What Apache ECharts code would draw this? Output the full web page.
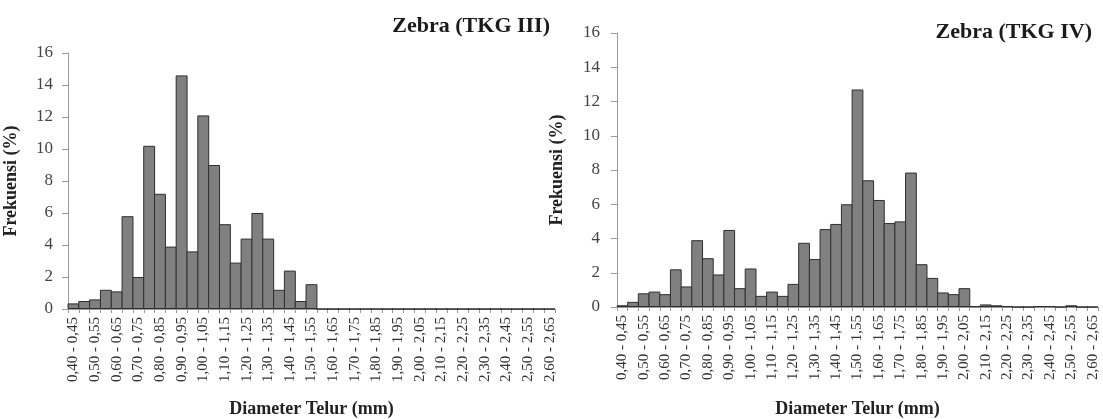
<!DOCTYPE html>
<html>
<head>
<meta charset="utf-8">
<script src="https://cdn.jsdelivr.net/npm/echarts@6/dist/echarts.min.js"></script>
<style>
  html, body { margin: 0; padding: 0; background: #fff; }
  #chart { width: 1103px; height: 419px; }
</style>
</head>
<body>
<div id="chart"></div>
<script>
// kelas diameter telur (mm)
var categories = [
  '0,40 - 0,45', '0,45 - 0,50', '0,50 - 0,55', '0,55 - 0,60', '0,60 - 0,65',
  '0,65 - 0,70', '0,70 - 0,75', '0,75 - 0,80', '0,80 - 0,85', '0,85 - 0,90',
  '0,90 - 0,95', '0,95 - 1,00', '1,00 - 1,05', '1,05 - 1,10', '1,10 - 1,15',
  '1,15 - 1,20', '1,20 - 1,25', '1,25 - 1,30', '1,30 - 1,35', '1,35 - 1,40',
  '1,40 - 1,45', '1,45 - 1,50', '1,50 - 1,55', '1,55 - 1,60', '1,60 - 1,65',
  '1,65 - 1,70', '1,70 - 1,75', '1,75 - 1,80', '1,80 - 1,85', '1,85 - 1,90',
  '1,90 - 1,95', '1,95 - 2,00', '2,00 - 2,05', '2,05 - 2,10', '2,10 - 2,15',
  '2,15 - 2,20', '2,20 - 2,25', '2,25 - 2,30', '2,30 - 2,35', '2,35 - 2,40',
  '2,40 - 2,45', '2,45 - 2,50', '2,50 - 2,55', '2,55 - 2,60', '2,60 - 2,65'
];

// frekuensi (%) TKG III
var tkg3 = [
  0.35, 0.5, 0.6, 1.2, 1.1, 5.8, 2.0, 10.2, 7.2, 3.9,
  14.6, 3.6, 12.1, 9.0, 5.3, 2.9, 4.4, 6.0, 4.4, 1.2,
  2.4, 0.5, 1.55, 0, 0, 0, 0, 0, 0, 0,
  0, 0, 0, 0, 0, 0, 0, 0, 0, 0,
  0, 0, 0, 0, 0
];

// frekuensi (%) TKG IV
var tkg4 = [
  0.1, 0.3, 0.8, 0.9, 0.75, 2.2, 1.2, 3.9, 2.85, 1.9,
  4.5, 1.1, 2.25, 0.65, 0.9, 0.65, 1.35, 3.75, 2.8, 4.55,
  4.85, 6.0, 12.7, 7.4, 6.25, 4.9, 5.0, 7.85, 2.5, 1.7,
  0.85, 0.75, 1.1, 0.05, 0.15, 0.1, 0.05, 0, 0, 0.05,
  0.05, 0, 0.1, 0, 0
];

var titles = ['Zebra (TKG III)', 'Zebra (TKG IV)'];
var yTitle = 'Frekuensi (%)';
var xTitle = 'Diameter Telur (mm)';

var serif = '"Liberation Serif", "DejaVu Serif", serif';
var axisGray = '#9a9a9a';

function xAxisOf(gridIndex, gap) {
  return {
    type: 'category',
    gridIndex: gridIndex,
    data: categories,
    name: xTitle,
    nameLocation: 'middle',
    nameGap: gap,
    nameTextStyle: { fontFamily: serif, fontWeight: 'bold', fontSize: 18, color: '#222' },
    axisLine: { lineStyle: { color: axisGray, width: 1 } },
    axisTick: { show: true, interval: 0, length: 4, lineStyle: { color: axisGray } },
    axisLabel: {
      interval: 1,
      rotate: 90,
      margin: 8,
      fontFamily: serif,
      fontSize: 15,
      color: '#333'
    },
    splitLine: { show: false }
  };
}

function yAxisOf(gridIndex, gap, labelMargin) {
  return {
    type: 'value',
    gridIndex: gridIndex,
    min: 0,
    max: 16,
    interval: 2,
    name: yTitle,
    nameLocation: 'middle',
    nameGap: gap,
    nameTextStyle: { fontFamily: serif, fontWeight: 'bold', fontSize: 18, color: '#222' },
    axisLine: { show: true, lineStyle: { color: axisGray, width: 1 } },
    axisTick: { show: true, length: 6, lineStyle: { color: axisGray } },
    axisLabel: { margin: labelMargin, fontFamily: serif, fontSize: 17, color: '#444' },
    splitLine: { show: false }
  };
}

function barOf(idx, data) {
  return {
    type: 'bar',
    xAxisIndex: idx,
    yAxisIndex: idx,
    data: data,
    // a bit over 100% so neighbouring bars share their outline like in Excel
    barWidth: '110%',
    itemStyle: { color: '#808080', borderColor: '#2e2e2e', borderWidth: 1 },
    animation: false
  };
}

var chart = echarts.init(document.getElementById('chart'));
var option = {
  backgroundColor: '#fff',
  animation: false,
  title: [
    {
      text: titles[0],
      right: 548,
      top: 10,
      textStyle: { fontFamily: serif, fontWeight: 'bold', fontSize: 22, color: '#1a1a1a' }
    },
    {
      text: titles[1],
      right: 6,
      top: 16,
      textStyle: { fontFamily: serif, fontWeight: 'bold', fontSize: 22, color: '#1a1a1a' }
    }
  ],
  grid: [
    { left: 68, top: 53, width: 487, height: 256, outerBoundsMode: 'none' },
    { left: 617, top: 33, width: 481, height: 274, outerBoundsMode: 'none' }
  ],
  xAxis: [xAxisOf(0, 91), xAxisOf(1, 93)],
  yAxis: [yAxisOf(0, 48, 15), yAxisOf(1, 51, 17)],
  series: [barOf(0, tkg3), barOf(1, tkg4)]
};
chart.setOption(option);
window.addEventListener('resize', function () {
  chart.resize();
});
</script>
</body>
</html>
